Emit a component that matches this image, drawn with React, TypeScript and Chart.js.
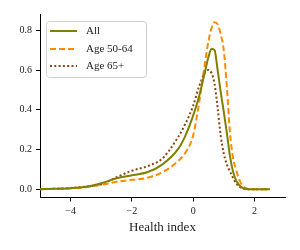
import React, { useEffect, useRef } from "react";
import { Chart, registerables } from "chart.js";

Chart.register(...registerables);

const xGrid = [-5, -4.5, -4, -3.5, -3, -2.5, -2, -1.5, -1, -0.5, -0.25, 0, 0.2, 0.4, 0.5, 0.6, 0.7, 0.8, 0.9, 1.0, 1.1, 1.2, 1.3, 1.4, 1.5, 1.6, 1.7, 1.8, 2.0, 2.5];
const allVals = [0, 0.002, 0.005, 0.012, 0.03, 0.055, 0.07, 0.085, 0.125, 0.2, 0.27, 0.37, 0.47, 0.6, 0.665, 0.707, 0.7, 0.6, 0.49, 0.39, 0.285, 0.17, 0.09, 0.045, 0.022, 0.008, 0.002, 0, 0, 0];
const age5064 = [0, 0.002, 0.005, 0.01, 0.022, 0.037, 0.047, 0.057, 0.085, 0.14, 0.185, 0.27, 0.44, 0.65, 0.745, 0.81, 0.84, 0.83, 0.78, 0.7, 0.52, 0.29, 0.16, 0.1, 0.05, 0.02, 0.006, 0.001, 0, 0];
const age65 = [0, 0.002, 0.006, 0.013, 0.025, 0.06, 0.093, 0.115, 0.155, 0.26, 0.33, 0.42, 0.52, 0.59, 0.6, 0.585, 0.53, 0.41, 0.27, 0.18, 0.125, 0.09, 0.058, 0.03, 0.015, 0.005, 0.001, 0, 0, 0];
const seriesLabels = ["All", "Age 50-64", "Age 65+"];
const xTicks = [-4, -2, 0, 2];
const yTicks = [0, 0.2, 0.4, 0.6, 0.8];

const FONT = "'Liberation Serif', 'DejaVu Serif', serif";

const legendPlugin = {
  id: "insideLegend",
  afterDraw(chart: any) {
    const ctx = chart.ctx;
    const left = 46, top = 21, w = 100, h = 56;
    ctx.save();
    ctx.fillStyle = "rgba(255,255,255,0.8)";
    ctx.strokeStyle = "#d0d0d0";
    ctx.lineWidth = 1;
    ctx.beginPath();
    (ctx as any).roundRect(left + 0.5, top + 0.5, w, h, 3);
    ctx.fill();
    ctx.stroke();
    const rows = [31, 49, 66];
    chart.data.datasets.forEach((ds: any, i: number) => {
      const y = rows[i];
      ctx.strokeStyle = ds.borderColor;
      ctx.lineWidth = ds.borderWidth;
      ctx.lineCap = ds.borderCapStyle || "butt";
      ctx.setLineDash(ds.borderDash || []);
      ctx.beginPath();
      ctx.moveTo(50, y);
      ctx.lineTo(77, y);
      ctx.stroke();
      ctx.setLineDash([]);
      ctx.fillStyle = "#222";
      ctx.font = `11px ${FONT}`;
      ctx.textBaseline = "middle";
      ctx.textAlign = "left";
      ctx.fillText(ds.label, 86, y + 0.5);
    });
    ctx.restore();
  },
};

function fmtNum(v: number, digits: number) {
  const s = v.toFixed(digits);
  return s.startsWith("-") ? "\u2212" + s.slice(1) : s;
}

export default function App() {
  const ref = useRef<HTMLCanvasElement>(null);
  useEffect(() => {
    document.body.style.margin = "0";
    const mk = (vals: number[]) => xGrid.map((x, i) => ({ x, y: vals[i] }));
    const chart = new Chart(ref.current!, {
      type: "line",
      data: {
        datasets: [
          { label: seriesLabels[0], data: mk(allVals), borderColor: "#808000", borderWidth: 2, pointRadius: 0, cubicInterpolationMode: "monotone" },
          { label: seriesLabels[1], data: mk(age5064), borderColor: "#ff8c00", borderWidth: 2, borderDash: [6, 3], pointRadius: 0, cubicInterpolationMode: "monotone" },
          { label: seriesLabels[2], data: mk(age65), borderColor: "#8b4513", borderWidth: 2, borderDash: [2, 2.3], pointRadius: 0, cubicInterpolationMode: "monotone" },
        ] as any,
      },
      options: {
        animation: false,
        responsive: false,
        layout: { padding: { top: 14, right: 15, left: 0, bottom: 0 } },
        plugins: { legend: { display: false }, tooltip: { enabled: false } },
        scales: {
          x: {
            type: "linear",
            min: -5,
            max: 3,
            afterBuildTicks: (s: any) => { s.ticks = xTicks.map((v) => ({ value: v })); },
            afterFit: (s: any) => { s.height = 52.5; },
            ticks: { color: "#222", font: { family: FONT, size: 10 }, padding: 4, maxRotation: 0, callback: (v: any) => fmtNum(Number(v), 0) },
            grid: { display: true, drawOnChartArea: false, drawTicks: true, tickLength: 4, color: "#000", lineWidth: 1 },
            border: { display: true, color: "#000", width: 1 },
            title: { display: true, text: "Health index", color: "#222", font: { family: FONT, size: 13 }, padding: { top: 2, bottom: 15 } },
          },
          y: {
            type: "linear",
            min: -0.042,
            max: 0.882,
            afterBuildTicks: (s: any) => { s.ticks = yTicks.map((v) => ({ value: v })); },
            afterFit: (s: any) => { s.width = 40; },
            ticks: { color: "#222", font: { family: FONT, size: 10 }, padding: 4, callback: (v: any) => fmtNum(Number(v), 1) },
            grid: { display: true, drawOnChartArea: false, drawTicks: true, tickLength: 4, color: "#000", lineWidth: 1 },
            border: { display: true, color: "#000", width: 1 },
          },
        },
      } as any,
      plugins: [legendPlugin],
    });
    return () => chart.destroy();
  }, []);
  return (
    <div style={{ width: 300, height: 250 }}>
      <canvas ref={ref} width={300} height={250} style={{ width: 300, height: 250, display: "block" }} />
    </div>
  );
}
